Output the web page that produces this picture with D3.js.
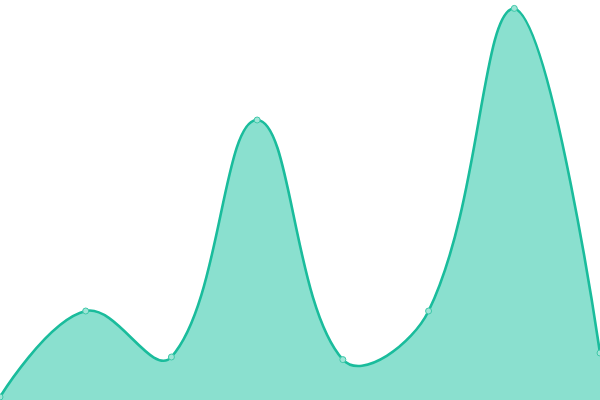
<!DOCTYPE html>
<html><head><meta charset="utf-8">
<script src="https://cdn.jsdelivr.net/npm/d3@7"></script>
<style>html,body{margin:0;padding:0;background:#fff;overflow:hidden}</style>
</head><body>
<svg id="chart" width="600" height="400"></svg>
<script>
const categories = ["A","B","C","D","E","F","G","H"];
const values = [0.75, 22.25, 10.75, 70, 10.1, 22.25, 97.9, 11.75];

// Smooth bezier curve: tangent split by neighbouring segment lengths,
// control points kept inside the bounding box of the points.
function SmoothCurve(context) { this._context = context; this._s = 0.4; }
SmoothCurve.prototype = {
  areaStart() { this._line = 0; },
  areaEnd() { this._line = NaN; },
  lineStart() { this._pts = []; },
  lineEnd() {
    const p = this._pts, n = p.length, c = this._context, s = this._s;
    if (n) {
      const xs = p.map(d => d[0]), ys = p.map(d => d[1]);
      const x0 = Math.min(...xs), x1 = Math.max(...xs), y0 = Math.min(...ys), y1 = Math.max(...ys);
      const cx = v => Math.max(x0, Math.min(x1, v)), cy = v => Math.max(y0, Math.min(y1, v));
      if (this._line) c.lineTo(p[0][0], p[0][1]); else c.moveTo(p[0][0], p[0][1]);
      let cx0 = p[0][0], cy0 = p[0][1];
      for (let i = 1; i < n; i++) {
        const x = p[i][0], y = p[i][1];
        let cx1 = x, cy1 = y, nx = x, ny = y;
        if (i + 1 < n) {
          const px = p[i-1][0], py = p[i-1][1], qx = p[i+1][0], qy = p[i+1][1];
          const vx = qx - px, vy = qy - py;
          const l0 = Math.hypot(x - px, y - py), l1 = Math.hypot(qx - x, qy - y);
          const r = (l0 + l1) ? l1 / (l0 + l1) : 0.5;
          cx1 = x - vx * s * (1 - r); cy1 = y - vy * s * (1 - r);
          nx = x + vx * s * r; ny = y + vy * s * r;
        }
        c.bezierCurveTo(cx(cx0), cy(cy0), cx(cx1), cy(cy1), x, y);
        cx0 = nx; cy0 = ny;
      }
    }
    if (this._line || (this._line !== 0 && n === 1)) c.closePath();
    this._line = 1 - this._line;
  },
  point(x, y) { this._pts.push([+x, +y]); }
};
const curve = ctx => new SmoothCurve(ctx);

const svg = d3.select("#chart");
const W = 600, H = 400;
const x = d3.scalePoint().domain(categories).range([0, W]);
const y = d3.scaleLinear().domain([0, 100]).range([H, 0]);
const data = categories.map((c, i) => ({c, v: values[i]}));

svg.append("path")
  .datum(data)
  .attr("fill", "#8ae0cf")
  .attr("d", d3.area().x(d => x(d.c)).y0(H).y1(d => y(d.v)).curve(curve));

svg.append("path")
  .datum(data)
  .attr("fill", "none")
  .attr("stroke", "#1abc9c")
  .attr("stroke-width", 2.6)
  .attr("d", d3.line().x(d => x(d.c)).y(d => y(d.v)).curve(curve));

svg.selectAll("circle").data(data).join("circle")
  .attr("cx", d => x(d.c)).attr("cy", d => y(d.v)).attr("r", 3)
  .attr("fill", "#9fe5d7").attr("stroke", "#3fc8a9").attr("stroke-width", 1);
</script>
</body></html>
